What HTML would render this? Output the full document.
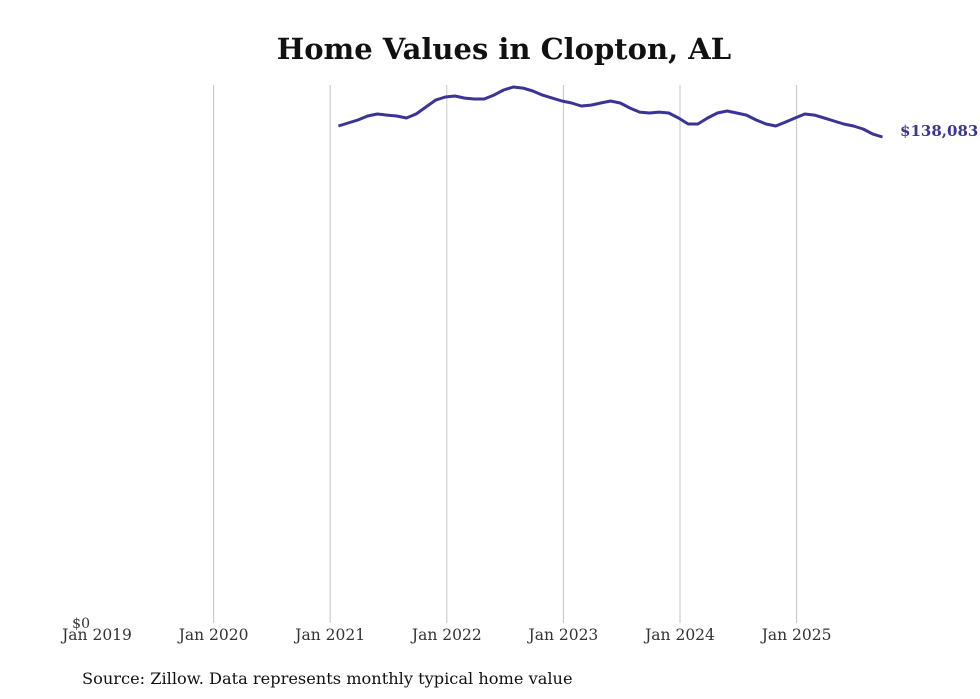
<!DOCTYPE html>
<html><head><meta charset="utf-8"><style>
body{margin:0;background:#fff;}
svg{display:block;font-family:"DejaVu Serif","Liberation Serif",serif;}
</style></head><body>
<svg width="980" height="699">
<text x="504" y="59" text-anchor="middle" font-size="29" font-weight="bold" fill="#111">Home Values in Clopton, AL</text>
<g id="grid"></g>
<g id="xt"></g>
<text x="90" y="628" text-anchor="end" font-size="14" fill="#333">$0</text>
<path id="line" fill="none" stroke="#3a3496" stroke-width="3" stroke-linejoin="round"/>
<text id="endlbl" font-size="15" font-weight="bold" fill="#3a3496"></text>
<text x="82" y="684" font-size="16.2" fill="#111">Source: Zillow. Data represents monthly typical home value</text>
</svg>
<script>
const tickLabels=["Jan 2019","Jan 2020","Jan 2021","Jan 2022","Jan 2023","Jan 2024","Jan 2025"];
const startMonth=25; // months since Jan 2019 (Feb 2021)
const values=[141200,142050,142900,144040,144610,144320,144040,143470,144610,146600,148580,
149440,149720,149150,148870,148870,150000,151430,152280,151990,151140,150000,149150,
148300,147730,146880,147160,147730,148300,147730,146310,145170,144890,145170,144890,
143470,141770,141770,143470,144890,145460,144890,144320,142900,141770,141200,142330,
143470,144610,144320,143470,142620,141770,141200,140350,138920,138083];
const yMax=153000;
const x=m=>97+m*(116.6/12);
const y=v=>623-v/yMax*(623-84.5);
const ns="http://www.w3.org/2000/svg";
const grid=document.getElementById('grid'),xt=document.getElementById('xt');
tickLabels.forEach((t,i)=>{
  const xx=x(i*12);
  if(i>0){const l=document.createElementNS(ns,'line');
  l.setAttribute('x1',xx);l.setAttribute('x2',xx);l.setAttribute('y1',85);l.setAttribute('y2',623);
  l.setAttribute('stroke','#c4c4c4');l.setAttribute('stroke-width','1');
  
  
  grid.appendChild(l);}
  const tx=document.createElementNS(ns,'text');
  tx.setAttribute('x',xx);tx.setAttribute('y',640);tx.setAttribute('text-anchor','middle');
  tx.setAttribute('font-size','15.5');tx.setAttribute('fill','#333');tx.textContent=t;
  
  
  xt.appendChild(tx);
});
document.getElementById('line').setAttribute('d',values.map((v,i)=>(i?'L':'M')+(x(startMonth+i)-1.5).toFixed(1)+','+y(v).toFixed(1)).join(''));
const last=values[values.length-1],el=document.getElementById('endlbl');
el.setAttribute('x',x(startMonth+values.length-1)+16);el.setAttribute('y',y(last)-1);
el.textContent='$'+last.toLocaleString('en-US');
</script>
</body></html>
